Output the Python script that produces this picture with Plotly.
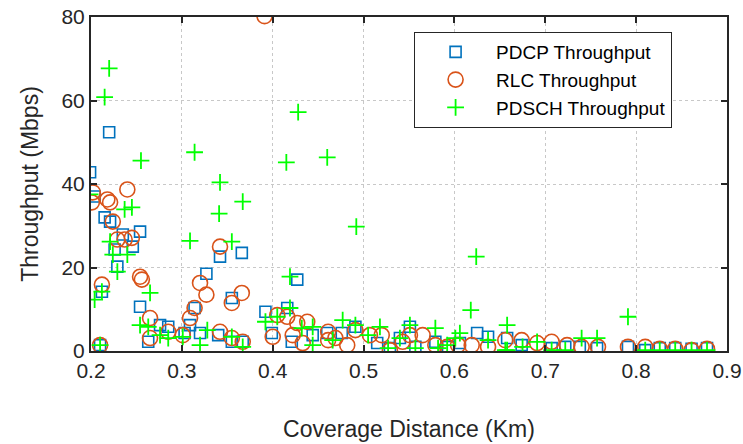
import plotly.graph_objects as go

# PDCP throughput samples (distance in km, throughput in Mbps)
pdcp_x = [0.199, 0.204, 0.220, 0.215, 0.221, 0.254, 0.235, 0.246, 0.226, 0.229,
          0.212, 0.254, 0.276, 0.285, 0.263, 0.210, 0.309, 0.314, 0.327, 0.320,
          0.340, 0.342, 0.366, 0.355, 0.355, 0.367, 0.427, 0.392, 0.399, 0.416,
          0.421, 0.444, 0.460, 0.476, 0.491, 0.515, 0.529, 0.540, 0.551, 0.557,
          0.579, 0.593, 0.625, 0.637, 0.658, 0.606, 0.707, 0.722, 0.757, 0.674,
          0.738, 0.791, 0.810, 0.826, 0.843, 0.861, 0.878, 0.303]
pdcp_y = [42.8, 37.0, 52.4, 32.0, 31.0, 28.6, 27.9, 25.0, 24.3, 20.2,
          14.2, 10.6, 6.2, 5.8, 2.2, 1.4, 6.2, 10.3, 18.5, 4.3,
          3.8, 22.6, 23.5, 12.7, 2.2, 2.2, 17.1, 9.4, 4.3, 10.3,
          2.2, 3.8, 4.3, 4.3, 5.8, 1.9, 0.7, 3.1, 5.8, 1.0,
          2.2, 1.0, 4.3, 3.4, 3.1, 1.9, 0.7, 1.0, 0.7, 1.4,
          1.0, 1.0, 0.2, 0.7, 0.7, 0.5, 0.7, 4.3]

# RLC throughput samples
rlc_x = [0.391, 0.201, 0.202, 0.218, 0.221, 0.240, 0.224, 0.229, 0.237, 0.245,
         0.254, 0.256, 0.212, 0.265, 0.265, 0.285, 0.301, 0.210, 0.309, 0.314,
         0.320, 0.327, 0.342, 0.342, 0.355, 0.366, 0.355, 0.367, 0.405, 0.416,
         0.427, 0.438, 0.400, 0.422, 0.433, 0.461, 0.461, 0.469, 0.482, 0.491,
         0.507, 0.520, 0.529, 0.543, 0.551, 0.565, 0.579, 0.592, 0.604, 0.619,
         0.637, 0.656, 0.674, 0.691, 0.707, 0.724, 0.740, 0.758, 0.791, 0.810,
         0.826, 0.843, 0.861, 0.878]
rlc_y = [80.2, 35.6, 38.0, 36.3, 35.6, 38.7, 31.0, 26.7, 26.7, 27.1,
         17.8, 17.1, 15.9, 7.9, 3.1, 4.6, 3.8, 1.4, 7.9, 10.3,
         16.3, 13.5, 4.6, 25.0, 11.5, 13.9, 3.1, 2.2, 8.6, 8.2,
         6.7, 7.0, 3.4, 3.8, 1.9, 2.6, 4.6, 3.1, 1.4, 5.0,
         3.8, 3.8, 0.2, 2.2, 3.8, 3.8, 1.4, 1.0, 1.4, 1.4,
         1.0, 2.6, 2.6, 1.9, 2.2, 1.4, 1.0, 1.0, 1.0, 1.0,
         0.5, 0.5, 0.2, 0.5]

# PDSCH throughput samples
pdsch_x = [0.220, 0.215, 0.255, 0.314, 0.415, 0.460, 0.428, 0.492, 0.624, 0.618,
           0.791, 0.199, 0.237, 0.245, 0.221, 0.224, 0.240, 0.229, 0.212, 0.204,
           0.265, 0.254, 0.263, 0.276, 0.285, 0.301, 0.210, 0.328, 0.320, 0.355,
           0.342, 0.367, 0.341, 0.309, 0.355, 0.367, 0.419, 0.392, 0.405, 0.419,
           0.432, 0.444, 0.444, 0.477, 0.491, 0.466, 0.505, 0.518, 0.527, 0.540,
           0.551, 0.557, 0.579, 0.582, 0.592, 0.601, 0.658, 0.606, 0.637, 0.656,
           0.675, 0.691, 0.707, 0.722, 0.740, 0.757, 0.658, 0.810, 0.826, 0.843,
           0.861, 0.878]
pdsch_y = [67.7, 60.8, 45.6, 47.6, 45.2, 46.4, 57.2, 29.8, 22.6, 9.8,
           8.2, 37.5, 33.9, 34.4, 26.2, 23.1, 23.1, 19.0, 14.2, 12.3,
           13.9, 6.2, 5.8, 3.8, 3.1, 3.4, 1.4, 5.0, 1.4, 26.2,
           40.4, 35.8, 32.9, 26.4, 3.4, 1.0, 17.8, 7.0, 8.2, 10.3,
           5.5, 5.8, 1.4, 7.4, 6.2, 2.6, 3.8, 5.8, 0.7, 3.1,
           6.2, 0.7, 5.5, 0.7, 1.4, 3.1, 6.2, 4.3, 2.6, 0.2,
           1.0, 2.2, 0.2, 0.2, 3.1, 3.1, 0.2, 0.2, 0.2, 0.2,
           0.2, 0.2]

x_ticks = [0.2, 0.3, 0.4, 0.5, 0.6, 0.7, 0.8, 0.9]
y_ticks = [0, 20, 40, 60, 80]

FONT = "Liberation Sans, Arial, sans-serif"
INK = "#262626"

fig = go.Figure()
fig.add_trace(go.Scatter(
    x=pdcp_x, y=pdcp_y, mode="markers", name="PDCP Throughput",
    legendgroup="pdcp",
    marker=dict(symbol="square-open", size=11, color="#0072BD",
                line=dict(width=1.6, color="#0072BD")),
))
fig.add_trace(go.Scatter(
    x=rlc_x, y=rlc_y, mode="markers", name="RLC Throughput",
    legendgroup="rlc",
    marker=dict(symbol="circle-open", size=15, color="#D95319",
                line=dict(width=1.6, color="#D95319")),
))
fig.add_trace(go.Scatter(
    x=pdsch_x, y=pdsch_y, mode="markers", name="PDSCH Throughput",
    legendgroup="pdsch",
    marker=dict(symbol="cross-thin", size=12, color="#00FF00",
                line=dict(width=1.8, color="#00FF00")),
))

axis_common = dict(
    showline=True, linecolor=INK, linewidth=2, mirror="ticks",
    ticks="inside", ticklen=6, tickwidth=2, tickcolor=INK,
    showgrid=True, gridcolor="#c8c8c8", griddash="dot", gridwidth=1,
    zeroline=False, automargin=False,
    tickfont=dict(family=FONT, size=21, color=INK),
)

fig.update_xaxes(
    range=[0.2, 0.9], tickvals=x_ticks, ticktext=[f"{v:g}" for v in x_ticks],
    title=dict(text="Coverage Distance (Km)", standoff=40,
               font=dict(family=FONT, size=23, color=INK)),
    **axis_common,
)
fig.update_yaxes(
    range=[0, 80], tickvals=y_ticks, ticktext=[str(v) for v in y_ticks],
    title=dict(text="Throughput (Mbps)", standoff=16,
               font=dict(family=FONT, size=23, color=INK)),
    **axis_common,
)

fig.update_layout(
    width=743, height=444,
    margin=dict(l=91, r=16, t=17, b=93),
    paper_bgcolor="white", plot_bgcolor="white",
    font=dict(family=FONT, color=INK),
    showlegend=True,
    legend=dict(
        x=0.508, y=0.955, xanchor="left", yanchor="top",
        bgcolor="white", bordercolor=INK, borderwidth=1,
        font=dict(family=FONT, size=19, color="#000000"),
        itemwidth=71, traceorder="grouped", tracegroupgap=0,
    ),
)

fig.write_html("out.html")
